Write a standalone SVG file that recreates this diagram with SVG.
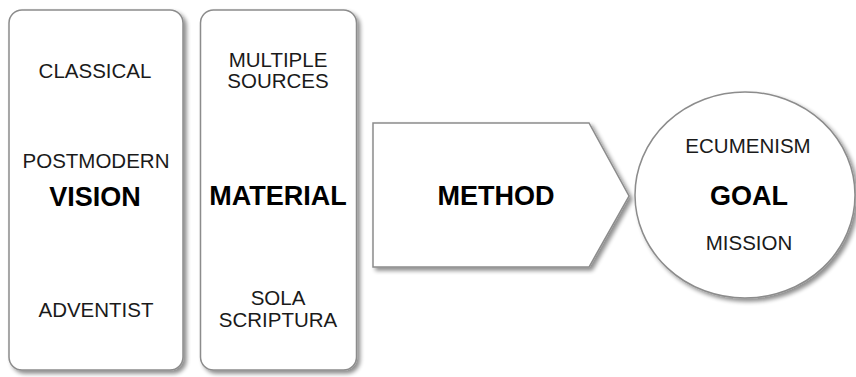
<svg xmlns="http://www.w3.org/2000/svg" width="856" height="377" viewBox="0 0 856 377">
<style>
.shape{fill:#ffffff;stroke:#8c8c8c;stroke-width:1.5;filter:url(#sh)}
.t{font-family:"Liberation Sans",Arial,sans-serif;font-size:20.5px;fill:#1a1a1a;text-anchor:middle}
.b{font-family:"Liberation Sans",Arial,sans-serif;font-size:27px;font-weight:bold;fill:#000;text-anchor:middle}
</style>
<defs>
<filter id="sh" x="-10%" y="-10%" width="125%" height="125%">
<feGaussianBlur in="SourceAlpha" stdDeviation="2"/>
<feOffset dx="2.5" dy="3" result="o"/>
<feComponentTransfer><feFuncA type="linear" slope="0.45"/></feComponentTransfer>
<feMerge><feMergeNode/><feMergeNode in="SourceGraphic"/></feMerge>
</filter>
</defs>
<rect width="856" height="377" fill="#ffffff"/>
<g id="connectors"></g>
<g id="vision">
<rect class="shape" x="9" y="10" width="174" height="360" rx="13"/>
<text class="t" x="95" y="78">CLASSICAL</text>
<text class="t" x="96" y="168">POSTMODERN</text>
<text class="b" x="95" y="206">VISION</text>
<text class="t" x="96" y="317">ADVENTIST</text>
</g>
<g id="material">
<rect class="shape" x="200.5" y="10" width="156" height="360" rx="13"/>
<text class="t" x="278" y="67">MULTIPLE</text>
<text class="t" x="278" y="88">SOURCES</text>
<text class="b" x="278" y="205">MATERIAL</text>
<text class="t" x="278" y="305">SOLA</text>
<text class="t" x="278" y="327">SCRIPTURA</text>
</g>
<g id="method">
<polygon class="shape" points="373,123 589,123 629,196 589,267 373,267"/>
<text class="b" x="496" y="205">METHOD</text>
</g>
<g id="goal">
<ellipse class="shape" cx="745" cy="195" rx="110" ry="103"/>
<text class="t" x="748" y="153">ECUMENISM</text>
<text class="b" x="749" y="205">GOAL</text>
<text class="t" x="749" y="250">MISSION</text>
</g>
</svg>
